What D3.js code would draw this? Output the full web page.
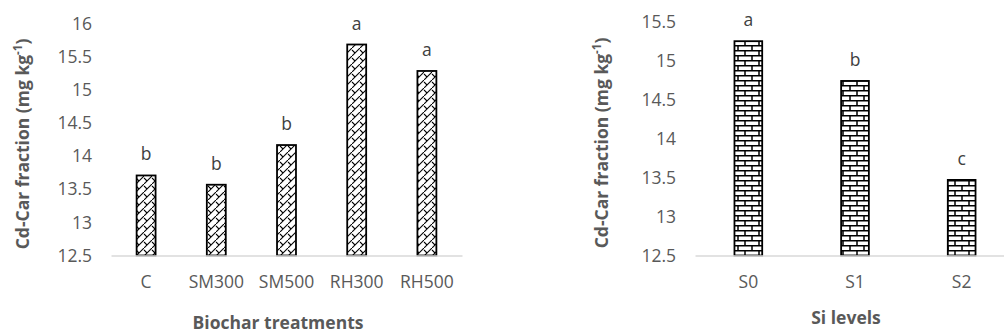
<!DOCTYPE html>
<html>
<head>
<meta charset="utf-8">
<script src="https://cdn.jsdelivr.net/npm/d3@7"></script>
<style>
  html, body { margin: 0; padding: 0; background: #fff; }
  svg { display: block; }
  text { font-family: "Open Sans", "Liberation Sans", sans-serif; }
</style>
</head>
<body>
<svg id="chart" width="1004" height="336"></svg>
<script>
// ---- Data ----
const biocharCategories = ["C", "SM300", "SM500", "RH300", "RH500"];
const biocharValues = [13.71, 13.57, 14.17, 15.69, 15.29];
const biocharLetters = ["b", "b", "b", "a", "a"];
const biocharTicks = [12.5, 13, 13.5, 14, 14.5, 15, 15.5, 16];

const siCategories = ["S0", "S1", "S2"];
const siValues = [15.25, 14.74, 13.47];
const siLetters = ["a", "b", "c"];
const siTicks = [12.5, 13, 13.5, 14, 14.5, 15, 15.5];

const yTitle = "Cd-Car fraction (mg kg";
const xTitleLeft = "Biochar treatments";
const xTitleRight = "Si levels";

const svg = d3.select("#chart");
const textColor = "#595959";
const tickFont = "17.5px";
const titleFont = "17.5px";

// ---- Patterns ----
const defs = svg.append("defs");
const zig = defs.append("pattern")
  .attr("id", "zig").attr("patternUnits", "userSpaceOnUse")
  .attr("width", 8).attr("height", 8);
zig.append("rect").attr("width", 8).attr("height", 8).attr("fill", "#fff");
zig.append("path").attr("d", "M0,8 L8,0").attr("stroke", "#000").attr("stroke-width", 1.1).attr("fill", "none");
zig.append("path").attr("d", "M0,2 L3,5").attr("stroke", "#000").attr("stroke-width", 1.1).attr("fill", "none");
zig.append("path").attr("d", "M8,2 L11,5").attr("stroke", "#000").attr("stroke-width", 1.1).attr("fill", "none");

const brick = defs.append("pattern")
  .attr("id", "brick").attr("patternUnits", "userSpaceOnUse")
  .attr("width", 14).attr("height", 10);
brick.append("rect").attr("width", 14).attr("height", 10).attr("fill", "#fff");
brick.append("path")
  .attr("d", "M0,0.75 H14 M0,5.75 H14 M3,0 V5 M10,5 V10")
  .attr("stroke", "#000").attr("stroke-width", 1.5).attr("fill", "none");

function drawChart(cfg) {
  const x = d3.scaleBand().domain(cfg.categories).range(cfg.xRange).paddingInner(cfg.pad).paddingOuter(cfg.pad / 2);
  const y = d3.scaleLinear().domain(cfg.yDomain).range(cfg.yRange);
  const g = svg.append("g");

  // y tick labels
  const yAxis = d3.axisLeft(y).tickValues(cfg.ticks).tickSize(0).tickPadding(0)
    .tickFormat(d => d3.format("")(d));
  const ya = g.append("g").attr("transform", `translate(${cfg.tickX},0)`).call(yAxis);
  ya.select(".domain").remove();
  ya.selectAll("text").attr("fill", textColor).style("font-size", tickFont)
    .style("font-family", '"Open Sans", sans-serif');

  // bars
  g.selectAll("rect.bar").data(cfg.values).enter().append("rect")
    .attr("class", "bar")
    .attr("x", (d, i) => x(cfg.categories[i]))
    .attr("width", x.bandwidth())
    .attr("y", d => y(d))
    .attr("height", d => y(cfg.yDomain[0]) - y(d))
    .attr("fill", `url(#${cfg.pattern})`)
    .attr("stroke", "#000").attr("stroke-width", 1.8);

  // x axis line
  const xAxis = d3.axisBottom(x).tickSize(0).tickPadding(0);
  const xa = g.append("g").attr("transform", `translate(0,${y(cfg.yDomain[0])})`).call(xAxis);
  xa.select(".domain").attr("stroke", "#d9d9d9").attr("stroke-width", 1.3);
  xa.selectAll("text").attr("fill", textColor).attr("y", 0).attr("dy", 0)
    .attr("transform", `translate(0,${cfg.xLabelY - y(cfg.yDomain[0])})`)
    .style("font-size", tickFont).style("font-family", '"Open Sans", sans-serif')
    .attr("dominant-baseline", "middle");

  // letters
  g.selectAll("text.let").data(cfg.values).enter().append("text")
    .attr("class", "let")
    .attr("x", (d, i) => x(cfg.categories[i]) + x.bandwidth() / 2)
    .attr("y", d => y(d) - 15)
    .attr("text-anchor", "middle")
    .attr("fill", "#404040")
    .style("font-size", tickFont)
    .text((d, i) => cfg.letters[i]);

  // y title
  const yt = g.append("text")
    .attr("transform", `translate(${cfg.yTitleX},${cfg.yTitleY}) rotate(-90)`)
    .attr("text-anchor", "middle")
    .attr("fill", textColor)
    .style("font-size", titleFont).style("font-weight", "bold");
  yt.append("tspan").text(yTitle);
  yt.append("tspan").attr("dy", -7).style("font-size", "11.5px").text("-1");
  yt.append("tspan").attr("dy", 7).text(")");

  // x title
  g.append("text")
    .attr("x", cfg.xTitleX).attr("y", cfg.xTitleY)
    .attr("text-anchor", "middle")
    .attr("fill", textColor)
    .style("font-size", titleFont).style("font-weight", "bold")
    .text(cfg.xTitle);
}

drawChart({
  categories: biocharCategories, values: biocharValues, letters: biocharLetters,
  ticks: biocharTicks, yDomain: [12.5, 16], yRange: [255.5, 24],
  xRange: [111, 462], pad: 0.73, pattern: "zig",
  tickX: 92, xLabelY: 283, yTitleX: 29, yTitleY: 144,
  xTitle: xTitleLeft, xTitleX: 278, xTitleY: 329
});

drawChart({
  categories: siCategories, values: siValues, letters: siLetters,
  ticks: siTicks, yDomain: [12.5, 15.5], yRange: [255.5, 21.7],
  xRange: [695, 1015], pad: 0.74, pattern: "brick",
  tickX: 676, xLabelY: 283, yTitleX: 608, yTitleY: 143,
  xTitle: xTitleRight, xTitleX: 846, xTitleY: 324
});
</script>
</body>
</html>
